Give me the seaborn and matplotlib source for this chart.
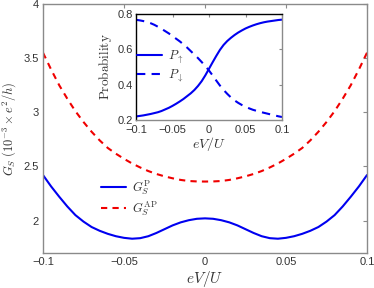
import numpy as np
import pandas as pd
import matplotlib
matplotlib.use("Agg")
import matplotlib.pyplot as plt
import seaborn as sns

# ---- data ----
ev = [-0.1, -0.095, -0.09, -0.085, -0.08, -0.075, -0.07, -0.065, -0.06, -0.055,
      -0.05, -0.045, -0.04, -0.035, -0.03, -0.025, -0.02, -0.015, -0.01, -0.005,
      0.0, 0.005, 0.01, 0.015, 0.02, 0.025, 0.03, 0.035, 0.04, 0.045,
      0.05, 0.055, 0.06, 0.065, 0.07, 0.075, 0.08, 0.085, 0.09, 0.095, 0.1]
g_p = [2.42, 2.315, 2.22, 2.13, 2.05, 1.99, 1.94, 1.905, 1.877, 1.855,
       1.84, 1.832, 1.837, 1.855, 1.885, 1.92, 1.955, 1.983, 2.003, 2.016,
       2.02, 2.016, 2.003, 1.983, 1.955, 1.92, 1.885, 1.855, 1.837, 1.832,
       1.84, 1.855, 1.877, 1.905, 1.94, 1.99, 2.05, 2.13, 2.22, 2.315, 2.42]
g_ap = [3.55, 3.395, 3.25, 3.125, 3.01, 2.91, 2.82, 2.74, 2.67, 2.617,
        2.57, 2.527, 2.49, 2.457, 2.43, 2.408, 2.39, 2.375, 2.365, 2.361,
        2.36, 2.361, 2.365, 2.375, 2.39, 2.408, 2.43, 2.457, 2.49, 2.527,
        2.57, 2.617, 2.67, 2.74, 2.82, 2.91, 3.01, 3.125, 3.25, 3.395, 3.55]
p_up = [0.22, 0.223, 0.226, 0.23, 0.234, 0.239, 0.244, 0.251, 0.26, 0.269,
        0.28, 0.292, 0.305, 0.319, 0.335, 0.351, 0.37, 0.393, 0.42, 0.453,
        0.49, 0.527, 0.563, 0.597, 0.625, 0.647, 0.665, 0.681, 0.695, 0.707,
        0.718, 0.727, 0.735, 0.742, 0.748, 0.753, 0.757, 0.76, 0.763, 0.766, 0.768]
p_down = [0.767, 0.764, 0.76, 0.755, 0.748, 0.739, 0.728, 0.716, 0.703, 0.69,
          0.675, 0.66, 0.645, 0.628, 0.61, 0.59, 0.57, 0.55, 0.528, 0.505,
          0.48, 0.452, 0.423, 0.395, 0.37, 0.348, 0.328, 0.311, 0.297, 0.285,
          0.275, 0.266, 0.258, 0.252, 0.246, 0.241, 0.236, 0.231, 0.226, 0.221, 0.217]
main_xticks = [-0.1, -0.05, 0, 0.05, 0.1]
main_xticklabels = ["\u22120.1", "\u22120.05", "0", "0.05", "0.1"]
main_yticks = [2, 2.5, 3, 3.5, 4]
main_yticklabels = ["2", "2.5", "3", "3.5", "4"]
inset_yticks = [0.2, 0.4, 0.6, 0.8]
inset_yticklabels = ["0.2", "0.4", "0.6", "0.8"]

sns.set_style("white")
plt.rcParams["font.family"] = ["Liberation Sans", "DejaVu Sans"]
plt.rcParams["mathtext.fontset"] = "cm"

gray = "#8a8a8a"
txt = "#333333"
fig = plt.figure(figsize=(3.74, 2.88), dpi=100)
ax = fig.add_axes([43/374, 1-253/288, 324/374, 249/288])

df = pd.DataFrame({"ev": ev, "gp": g_p, "gap": g_ap})
sns.lineplot(data=df, x="ev", y="gp", ax=ax, color="#0000f0", lw=1.5,
             label=r"$G_S^{\mathrm{P}}$")
sns.lineplot(data=df, x="ev", y="gap", ax=ax, color="#f00000", lw=1.5,
             label=r"$G_S^{\mathrm{AP}}$")
ax.lines[1].set_dashes((3, 2.5))

ax.set_xlim(-0.1, 0.1)
ax.set_ylim(1.7, 4)
ax.set_xticks(main_xticks)
ax.set_xticklabels(main_xticklabels)
ax.set_yticks(main_yticks)
ax.set_yticklabels(main_yticklabels)
ax.tick_params(direction="in", length=3, width=0.8, color=gray, labelsize=8,
               labelcolor=txt, top=True, right=True, pad=3)
for s in ax.spines.values():
    s.set_color(gray)
    s.set_linewidth(1.0)
ax.set_xlabel(r"$eV/U$", fontsize=11, color=txt, labelpad=1)
ax.set_ylabel(r"$G_S\ (10^{-3}\times e^2/h)$", fontsize=9, color=txt)
ax.yaxis.set_label_coords(-0.078, 0.5)
leg = ax.legend(loc="center left", bbox_to_anchor=(0.145, 0.22), frameon=False,
                fontsize=9, handlelength=2.0, handletextpad=0.5, labelspacing=0.2)
for t in leg.get_texts():
    t.set_color(txt)
leg.get_lines()[1].set_dashes((3, 2.5))

# ---- inset ----
ax2 = fig.add_axes([136/374, 1-120/288, 146/374, 106/288])
di = pd.DataFrame({"ev": ev, "up": p_up, "down": p_down})
sns.lineplot(data=di, x="ev", y="up", ax=ax2, color="#0000f0", lw=1.5,
             label=r"$P_{\uparrow}$")
sns.lineplot(data=di, x="ev", y="down", ax=ax2, color="#0000f0", lw=1.5,
             label=r"$P_{\downarrow}$")
ax2.lines[1].set_dashes((4, 3))
ax2.set_xlim(-0.1, 0.1)
ax2.set_ylim(0.2, 0.8)
ax2.set_xticks(main_xticks)
ax2.set_xticklabels(main_xticklabels)
ax2.set_yticks(inset_yticks)
ax2.set_yticklabels(inset_yticklabels)
ax2.tick_params(direction="in", length=2.5, width=0.8, color=gray, labelsize=8,
                labelcolor=txt, top=True, right=True, pad=2)
ax2.tick_params(axis="x", pad=3.5)
for k, s in ax2.spines.items():
    s.set_color("black" if k in ("top", "left") else gray)
    s.set_linewidth(1.0)
ax2.set_xlabel(r"$eV/U$", fontsize=10, color=txt, labelpad=0)
ax2.set_ylabel(r"$\mathrm{Probability}$", fontsize=9.5, color=txt, labelpad=3)
leg2 = ax2.legend(loc="center left", bbox_to_anchor=(-0.07, 0.51), frameon=False,
                  fontsize=9, handlelength=2.0, handletextpad=0.5, labelspacing=0.1)
for t in leg2.get_texts():
    t.set_color(txt)
leg2.get_lines()[1].set_dashes((4, 3))

fig.savefig("out.png", dpi=100)
